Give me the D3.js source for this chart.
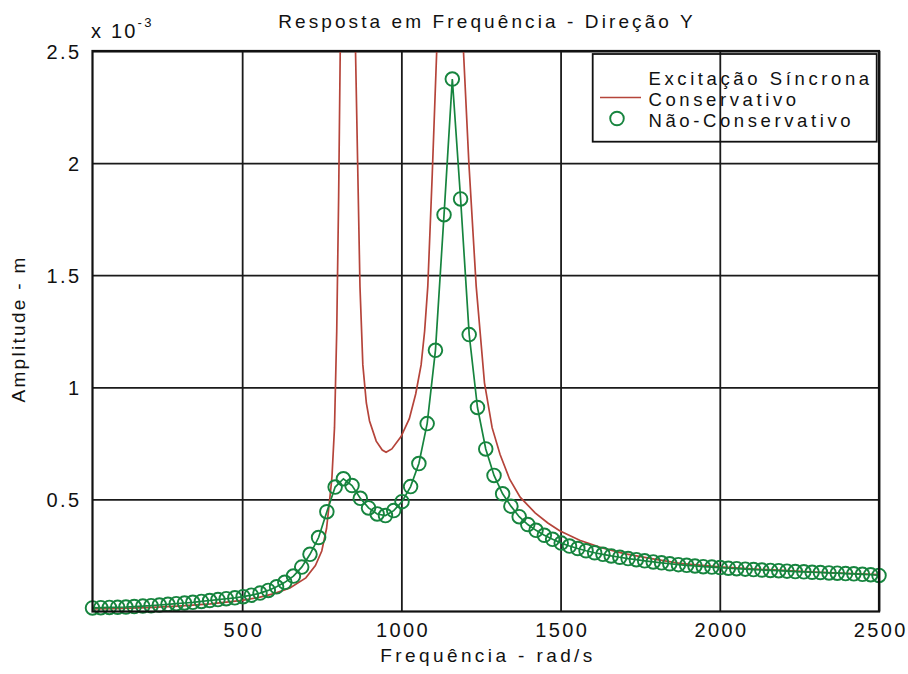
<!DOCTYPE html>
<html>
<head>
<meta charset="utf-8">
<script src="https://cdn.jsdelivr.net/npm/d3@7"></script>
<style>
  html, body { margin: 0; padding: 0; background: #ffffff; }
  svg text { font-family: "Liberation Sans", Arial, sans-serif; fill: #111; }
</style>
</head>
<body>
<svg id="chart" width="908" height="674"></svg>
<script>
// Frequency axis ticks and amplitude ticks (amplitude in units of 1e-3 m)
const xTicks = [500, 1000, 1500, 2000, 2500];
const yTicks = [0.5, 1, 1.5, 2, 2.5];

// Damped (non-conservative) response, sampled points with markers
const dampedFreq = [30,56,83,109,135,161,188,214,240,267,293,319,345,372,398,424,450,477,503,529,
  556,582,608,634,661,687,713,740,766,792,818,845,871,897,924,950,976,1002,1029,1055,
  1081,1107,1134,1160,1186,1213,1239,1265,1291,1318,1344,1370,1397,1423,1449,1475,1502,1528,1554,1580,
  1607,1633,1659,1686,1712,1738,1764,1791,1817,1843,1870,1896,1922,1948,1975,2001,2027,2053,2080,2106,
  2132,2159,2185,2211,2237,2264,2290,2316,2343,2369,2395,2421,2448,2474,2500];
const dampedAmp = [0.016,0.017,0.018,0.019,0.020,0.022,0.024,0.026,0.029,0.032,0.035,0.038,0.041,0.045,0.049,0.053,0.057,0.061,0.066,0.073,
  0.082,0.094,0.110,0.130,0.158,0.198,0.255,0.330,0.445,0.555,0.592,0.562,0.505,0.462,0.435,0.428,0.450,0.490,0.557,0.660,
  0.838,1.165,1.770,2.375,1.840,1.235,0.910,0.725,0.607,0.525,0.470,0.423,0.388,0.362,0.340,0.322,0.305,0.292,0.281,0.271,
  0.262,0.255,0.248,0.242,0.236,0.231,0.226,0.221,0.217,0.213,0.209,0.206,0.203,0.200,0.198,0.196,0.193,0.191,0.189,0.187,
  0.185,0.183,0.182,0.180,0.178,0.177,0.175,0.174,0.172,0.171,0.169,0.168,0.166,0.164,0.161];

// Undamped (conservative) response, unbounded at the two resonances
const consFreq = [30,100,200,300,400,500,550,600,650,700,730,750,765,775,782,790,797,803,808,812,820,
  845,852,856,864,870,879,890,900,921,940,952,970,999,1025,1045,1062,1073,1083,1097,1111,1120,1150,
  1180,1187,1195,1212,1235,1261,1285,1310,1340,1373,1420,1460,1497,1560,1622,1700,1790,1874,2000,2100,2200,2300,2400,2500];
const consAmp = [0.012,0.013,0.017,0.024,0.034,0.050,0.062,0.080,0.105,0.150,0.205,0.270,0.370,0.500,0.600,0.820,1.250,1.850,2.500,3.200,6.000,
  6.000,3.100,2.500,1.900,1.450,1.100,0.930,0.850,0.760,0.720,0.710,0.725,0.780,0.860,0.970,1.100,1.250,1.450,1.950,2.500,3.200,8.000,
  3.600,3.000,2.500,2.000,1.450,1.020,0.820,0.700,0.590,0.510,0.440,0.395,0.360,0.318,0.287,0.258,0.235,0.215,0.199,0.190,0.183,0.176,0.170,0.165];

const seriesNames = ["Excitação Síncrona", "Conservativo", "Não-Conservativo"];

const redColor = "#b5443a";
const greenColor = "#16843e";

const svg = d3.select("#chart");
const m = { left: 92.5, right: 879, top: 51, bottom: 611.5 };

const x = d3.scaleLinear().domain([30, 2500]).range([m.left, m.right]);
const y = d3.scaleLinear().domain([0, 2.5]).range([m.bottom, m.top]);

// Grid lines with tick labels
const gx = svg.append("g").attr("transform", `translate(0,${m.bottom})`)
  .call(d3.axisBottom(x).tickValues(xTicks).tickSize(-(m.bottom - m.top)).tickFormat(d3.format("d")).tickPadding(11));
const gy = svg.append("g").attr("transform", `translate(${m.left},0)`)
  .call(d3.axisLeft(y).tickValues(yTicks).tickSize(-(m.right - m.left)).tickFormat(d => d3.format("")(d)).tickPadding(11));
[gx, gy].forEach(g => {
  g.select(".domain").remove();
  g.selectAll(".tick line").attr("stroke", "#1a1a1a").attr("stroke-width", 1.8);
  g.selectAll(".tick text").attr("font-size", 20).style("letter-spacing", "2.4px").attr("fill", "#111");
});
gx.selectAll(".tick text").attr("dx", "1.2px");
gy.selectAll(".tick text").attr("dy", "0.36em");

// Clip the curves to the plot box
svg.append("clipPath").attr("id", "plotClip")
  .append("rect").attr("x", m.left).attr("y", m.top)
  .attr("width", m.right - m.left).attr("height", m.bottom - m.top);

const plot = svg.append("g");

const consLine = d3.line().x((d, i) => x(consFreq[i])).y(d => y(d));
plot.append("path").datum(consAmp)
  .attr("clip-path", "url(#plotClip)")
  .attr("fill", "none").attr("stroke", redColor).attr("stroke-width", 1.7)
  .attr("d", consLine);

const dampLine = d3.line().x((d, i) => x(dampedFreq[i])).y(d => y(d));
plot.append("path").datum(dampedAmp)
  .attr("fill", "none").attr("stroke", greenColor).attr("stroke-width", 1.7)
  .attr("d", dampLine);

plot.selectAll("circle.pt").data(dampedAmp).join("circle")
  .attr("class", "pt")
  .attr("cx", (d, i) => x(dampedFreq[i])).attr("cy", d => y(d)).attr("r", 6.8)
  .attr("fill", "none").attr("stroke", greenColor).attr("stroke-width", 1.9);

// Plot box
svg.append("rect").attr("x", m.left).attr("y", m.top)
  .attr("width", m.right - m.left).attr("height", m.bottom - m.top)
  .attr("fill", "none").attr("stroke", "#111").attr("stroke-width", 2.2);

// Title and axis labels
svg.append("text").attr("x", 487).attr("y", 28).attr("text-anchor", "middle")
  .attr("font-size", 19).style("letter-spacing", "3.1px")
  .text("Resposta em Frequência - Direção Y");
svg.append("text").attr("x", 488).attr("y", 662).attr("text-anchor", "middle")
  .attr("font-size", 19).style("letter-spacing", "3.4px")
  .text("Frequência - rad/s");
svg.append("text").attr("transform", "translate(25,329) rotate(-90)").attr("text-anchor", "middle")
  .attr("font-size", 19).style("letter-spacing", "2.3px")
  .text("Amplitude - m");

// Exponent marker for the amplitude axis
const expo = svg.append("text").attr("x", 91).attr("y", 38).attr("font-size", 20).style("letter-spacing", "2.2px");
expo.append("tspan").text("x 10");
expo.append("tspan").attr("dy", -11).attr("font-size", 13).text("-3");

// Legend: tightly stacked rows inside a box
const lg = svg.append("g");
lg.append("rect").attr("x", 592.7).attr("y", 54).attr("width", 284).attr("height", 87.7)
  .attr("fill", "none").attr("stroke", "#111").attr("stroke-width", 1.8);
const rowY = [84.5, 105.5, 126.5];
seriesNames.forEach((name, i) => {
  lg.append("text").attr("x", 648.5).attr("y", rowY[i]).attr("font-size", 18.5)
    .style("letter-spacing", "3.6px").text(name);
});
lg.append("line").attr("x1", 600).attr("x2", 641).attr("y1", 97.5).attr("y2", 97.5)
  .attr("stroke", redColor).attr("stroke-width", 1.7);
lg.append("circle").attr("cx", 617).attr("cy", 118.5).attr("r", 6.8)
  .attr("fill", "none").attr("stroke", greenColor).attr("stroke-width", 1.9);
</script>
</body>
</html>
